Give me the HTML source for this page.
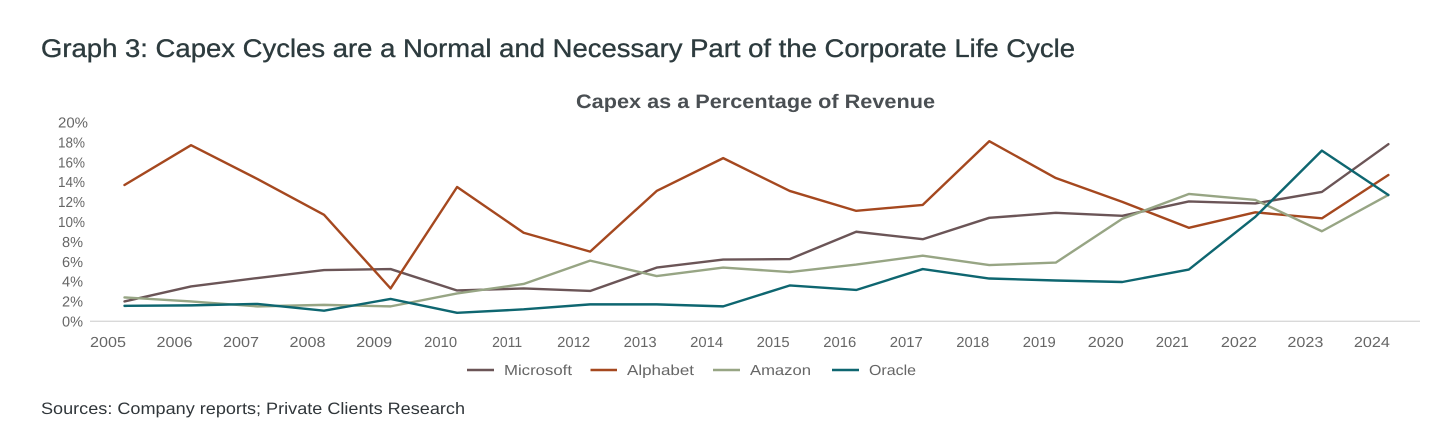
<!DOCTYPE html>
<html lang="en">
<head>
<meta charset="utf-8">
<title>Capex as a Percentage of Revenue</title>
<style>
html,body{margin:0;padding:0;background:#fff;width:1456px;height:430px;overflow:hidden}
svg{display:block}
text{font-family:"Liberation Sans",sans-serif;text-rendering:geometricPrecision}
</style>
</head>
<body>
<svg id="chart" width="1456" height="430" viewBox="0 0 1456 430" xmlns="http://www.w3.org/2000/svg">
  <rect width="1456" height="430" fill="#ffffff"/>
  <text x="41" y="57" font-size="25.5" fill="#2d3b3e" stroke="#2d3b3e" stroke-width="0.35" textLength="1034" lengthAdjust="spacingAndGlyphs">Graph 3: Capex Cycles are a Normal and Necessary Part of the Corporate Life Cycle</text>
  <text x="576" y="108" font-size="19.5" font-weight="700" fill="#4a4f53" textLength="359" lengthAdjust="spacingAndGlyphs">Capex as a Percentage of Revenue</text>
  <g id="y-axis"></g>
  <g id="x-axis"></g>
  <g id="series"></g>
  <g font-size="14.5" fill="#666666">
    <line x1="467" x2="494" y1="370" y2="370" stroke="#6b5557" stroke-width="2.4"/>
    <text x="504" y="375" textLength="68" lengthAdjust="spacingAndGlyphs">Microsoft</text>
    <line x1="590.5" x2="617" y1="370" y2="370" stroke="#a5481f" stroke-width="2.4"/>
    <text x="627" y="375" textLength="67" lengthAdjust="spacingAndGlyphs">Alphabet</text>
    <line x1="713" x2="740" y1="370" y2="370" stroke="#97a584" stroke-width="2.4"/>
    <text x="750" y="375" textLength="61" lengthAdjust="spacingAndGlyphs">Amazon</text>
    <line x1="832" x2="859" y1="370" y2="370" stroke="#0e6670" stroke-width="2.4"/>
    <text x="869" y="375" textLength="47" lengthAdjust="spacingAndGlyphs">Oracle</text>
  </g>
  <text x="41" y="414" font-size="16.5" fill="#30363a" textLength="424" lengthAdjust="spacingAndGlyphs">Sources: Company reports; Private Clients Research</text>
</svg>
<script>
const years = ['2005','2006','2007','2008','2009','2010','2011','2012','2013','2014','2015','2016','2017','2018','2019','2020','2021','2022','2023','2024'];
const yTicks = [0,2,4,6,8,10,12,14,16,18,20];
const microsoft = [2.0,3.5,4.35,5.15,5.25,3.1,3.3,3.05,5.4,6.2,6.25,9.0,8.25,10.4,10.9,10.6,12.05,11.85,13.0,17.8];
const alphabet = [13.7,17.7,14.3,10.7,3.3,13.5,8.9,7.0,13.1,16.4,13.1,11.1,11.7,18.1,14.4,12.0,9.4,10.95,10.35,14.7];
const amazon = [2.4,2.0,1.5,1.65,1.5,2.8,3.75,6.1,4.55,5.4,4.95,5.7,6.6,5.65,5.9,10.3,12.8,12.2,9.05,12.7];
const oracle = [1.55,1.6,1.75,1.07,2.25,0.85,1.2,1.7,1.7,1.5,3.6,3.15,5.25,4.3,4.1,3.95,5.2,10.5,17.15,12.7];

const NS = 'http://www.w3.org/2000/svg';
const xScale = function (i) { return 124.5 + 66.52 * i; };
const yScale = function (v) { return 321.3 - 9.95 * v; };
const labelWidth = function (s) {
  let w = 0;
  for (const c of s) { w += c === '1' ? 6 : c === '%' ? 12 : 9; }
  return w;
};

const yAxis = document.getElementById('y-axis');
const xAxis = document.getElementById('x-axis');
const seriesGroup = document.getElementById('series');

const axisLine = document.createElementNS(NS, 'line');


axisLine.setAttribute('x1', 90);
axisLine.setAttribute('x2', 1420);
axisLine.setAttribute('y1', yScale(0));
axisLine.setAttribute('y2', yScale(0));
axisLine.setAttribute('stroke', '#d9d9d9');
axisLine.setAttribute('stroke-width', 1.3);
xAxis.appendChild(axisLine);

yTicks.forEach(function (v) {
  const label = v + '%';
  const t = document.createElementNS(NS, 'text');
  
  
  t.setAttribute('x', label.length === 3 ? 58 : 62);
  t.setAttribute('y', yScale(v) + 5.2);
  t.setAttribute('font-size', 14.5);
  t.setAttribute('fill', '#666666');
  t.setAttribute('textLength', labelWidth(label));
  t.setAttribute('lengthAdjust', 'spacingAndGlyphs');
  t.textContent = label;
  yAxis.appendChild(t);
});

years.forEach(function (year, i) {
  const t = document.createElementNS(NS, 'text');
  
  
  t.setAttribute('x', xScale(i) - 16.5 - labelWidth(year) / 2);
  t.setAttribute('y', 347);
  t.setAttribute('font-size', 14.5);
  t.setAttribute('fill', '#666666');
  t.setAttribute('textLength', labelWidth(year));
  t.setAttribute('lengthAdjust', 'spacingAndGlyphs');
  t.textContent = year;
  xAxis.appendChild(t);
});

function drawLine(values, color) {
  const p = document.createElementNS(NS, 'polyline');
  p.setAttribute('points', values.map(function (v, i) { return xScale(i).toFixed(2) + ',' + yScale(v).toFixed(2); }).join(' '));
  p.setAttribute('fill', 'none');
  p.setAttribute('stroke', color);
  p.setAttribute('stroke-width', 2.4);
  p.setAttribute('stroke-linejoin', 'round');
  p.setAttribute('stroke-linecap', 'round');
  seriesGroup.appendChild(p);
  return p;
}

const microsoftLine = drawLine(microsoft, '#6b5557');


const alphabetLine = drawLine(alphabet, '#a5481f');


const amazonLine = drawLine(amazon, '#97a584');


const oracleLine = drawLine(oracle, '#0e6670');


</script>
</body>
</html>
